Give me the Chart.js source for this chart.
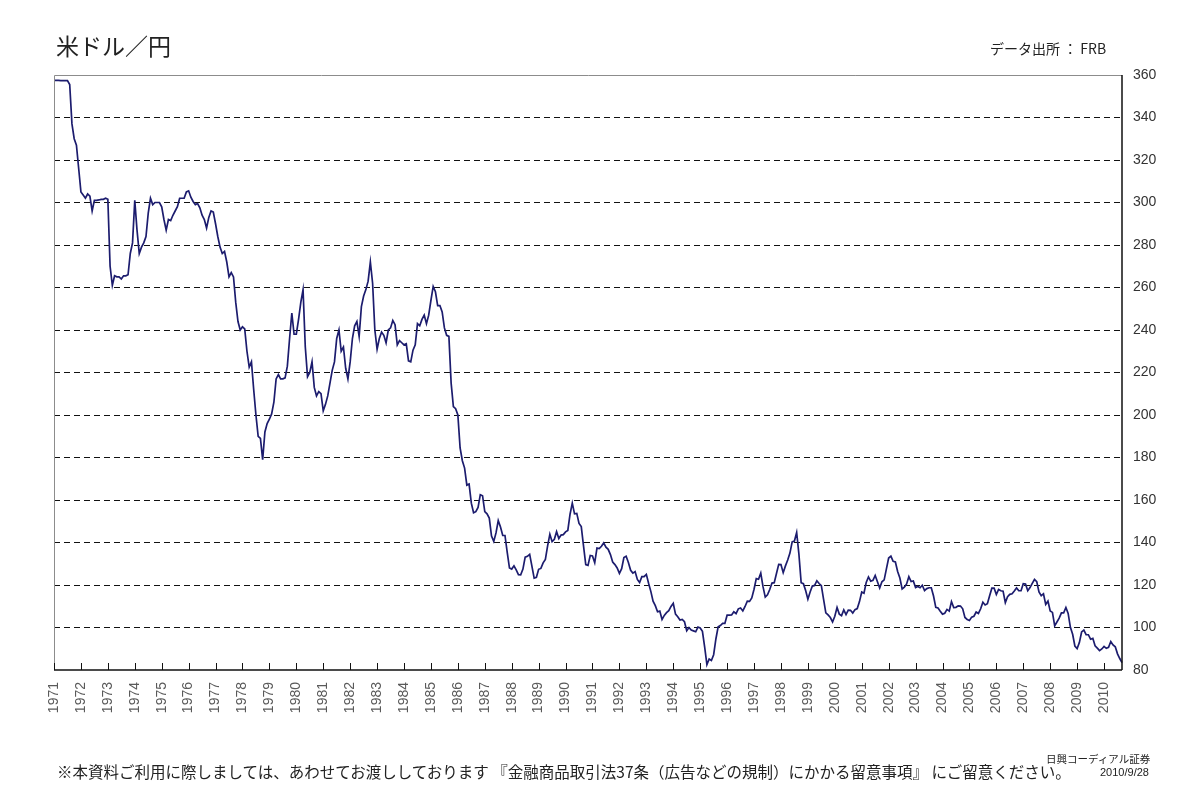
<!DOCTYPE html>
<html lang="ja">
<head>
<meta charset="utf-8">
<title>米ドル／円</title>
<script src="https://cdn.jsdelivr.net/npm/chart.js@4.4.1/dist/chart.umd.min.js"></script>
<style>
  html, body { margin: 0; padding: 0; background: #fff; }
  #wrap { position: relative; width: 1200px; height: 790px; overflow: hidden; }
  #c { position: absolute; left: 0; top: 0; }
  .txt { position: absolute; white-space: nowrap; color: #222; font-family: 'Noto Sans CJK JP', 'Noto Sans', sans-serif; }
  #title { left: 56px; top: 28px; font-size: 23px; }
  #source { left: 990px; top: 38px; font-size: 14px; }
  #note { left: 57px; top: 760px; font-size: 15.5px; }
  #firm { left: 1046px; top: 751px; font-size: 10.5px; }
  #date { left: 1100px; top: 766px; font-size: 11px; font-family: 'Liberation Sans', Arial, sans-serif; }
</style>
</head>
<body>
<div id="wrap">
  <canvas id="c" width="1200" height="790"></canvas>
  <div class="txt" id="title">米ドル／円</div>
  <div class="txt" id="source">データ出所 ： FRB</div>
  <div class="txt" id="note">※本資料ご利用に際しましては、あわせてお渡ししております 『金融商品取引法37条（広告などの規制）にかかる留意事項』 にご留意ください。</div>
  <div class="txt" id="firm">日興コーディアル証券</div>
  <div class="txt" id="date">2010/9/28</div>
</div>
<script>
// ─── Data: USD/JPY, monthly (1971/1 … 2010/9) ───
const firstYear = 1971;
const lastYear = 2010;
const lastMonth = 9;

const usdJpy = [
  // 1971
  357.5, 357.5, 357.5, 357.4, 357.4, 357.4, 357.4, 355.5, 337.0, 330.0, 327.0, 316.0,
  // 1972
  305.0, 303.5, 302.0, 304.0, 303.0, 296.0, 301.0, 301.0, 301.2, 301.5, 301.5, 302.0,
  // 1973
  301.5, 270.0, 261.0, 265.5, 265.0, 265.0, 264.0, 265.5, 265.5, 266.0, 276.0, 281.0,
  // 1974
  301.0, 287.0, 276.0, 279.0, 281.0, 284.0, 295.0, 302.0, 299.0, 300.0, 300.0, 300.0,
  // 1975
  298.0, 292.0, 287.0, 292.0, 291.5, 294.0, 296.0, 298.0, 302.0, 302.0, 302.0, 305.0,
  // 1976
  305.5, 302.5, 300.5, 299.0, 299.5, 297.5, 294.0, 292.0, 288.0, 293.0, 296.0, 295.5,
  // 1977
  290.0, 284.0, 279.0, 276.0, 277.0, 272.0, 265.0, 267.0, 265.0, 253.0, 244.0, 240.0,
  // 1978
  241.5, 240.5, 230.0, 222.5, 225.0, 212.0, 200.0, 190.0, 189.0, 179.0, 192.0, 196.0,
  // 1979
  198.0, 200.5, 206.0, 217.0, 219.0, 217.0, 217.0, 217.5, 223.0, 236.0, 248.0, 238.0,
  // 1980
  238.0, 245.0, 253.0, 259.0, 232.0, 218.0, 220.0, 225.0, 213.0, 209.0, 211.0, 210.0,
  // 1981
  202.0, 205.0, 209.0, 215.0, 221.0, 225.0, 236.0, 240.0, 230.0, 232.0, 222.0, 217.0,
  // 1982
  225.0, 236.0, 242.0, 244.0, 237.0, 251.0, 256.0, 259.0, 263.0, 272.0, 262.0, 240.0,
  // 1983
  231.0, 236.0, 239.0, 237.5, 234.0, 240.0, 241.0, 244.5, 242.5, 233.0, 235.0, 234.0,
  // 1984
  233.0, 233.5, 225.5, 225.0, 230.5, 233.0, 243.0, 242.0, 245.0, 247.0, 243.0, 247.0,
  // 1985
  254.0, 260.5, 258.0, 251.5, 251.5, 248.5, 241.0, 237.5, 237.0, 215.0, 204.0, 203.0,
  // 1986
  200.0, 184.5, 178.5, 175.0, 167.0, 167.5, 158.5, 154.0, 154.5, 156.5, 162.5, 162.0,
  // 1987
  154.5, 153.5, 151.5, 143.0, 140.5, 144.5, 150.3, 147.3, 143.3, 143.3, 135.4, 128.0,
  // 1988
  127.5, 129.0, 127.1, 124.9, 124.8, 127.5, 133.1, 133.5, 134.4, 128.9, 123.2, 123.6,
  // 1989
  127.4, 127.8, 130.4, 132.0, 138.4, 143.9, 140.4, 141.5, 145.1, 141.9, 143.5, 143.7,
  // 1990
  145.0, 145.7, 153.3, 158.5, 153.5, 153.7, 149.0, 147.5, 138.4, 129.6, 129.2, 133.9,
  // 1991
  133.7, 130.5, 137.4, 137.1, 138.2, 139.8, 137.8, 136.8, 134.3, 130.8, 129.6, 128.0,
  // 1992
  125.5, 127.7, 132.9, 133.5, 130.6, 126.9, 125.6, 126.3, 122.6, 121.2, 123.9, 123.9,
  // 1993
  125.0, 120.8, 117.0, 112.4, 110.3, 107.4, 107.7, 103.8, 105.7, 107.0, 107.9, 109.9,
  // 1994
  111.4, 106.3, 105.1, 103.5, 103.8, 102.7, 98.5, 100.0, 98.8, 98.4, 98.0, 100.2,
  // 1995
  99.8, 98.2, 90.8, 82.5, 85.2, 84.5, 87.2, 94.6, 100.3, 100.9, 101.9, 101.9,
  // 1996
  105.8, 105.8, 105.9, 107.4, 106.5, 108.8, 109.2, 107.8, 109.9, 112.4, 112.3, 113.9,
  // 1997
  118.0, 123.0, 122.7, 125.6, 119.2, 114.3, 115.4, 117.9, 120.9, 121.1, 125.4, 129.7,
  // 1998
  129.6, 125.8, 129.0, 131.8, 135.0, 140.3, 140.7, 144.7, 134.5, 121.1, 120.6, 117.4,
  // 1999
  113.3, 116.7, 119.5, 119.8, 122.0, 120.7, 119.7, 113.2, 106.9, 105.9, 104.7, 102.6,
  // 2000
  105.3, 109.4, 106.3, 105.6, 108.3, 106.1, 108.2, 108.1, 106.8, 108.4, 108.9, 112.2,
  // 2001
  116.7, 116.1, 121.2, 123.8, 121.8, 122.2, 124.5, 121.5, 118.6, 121.5, 122.4, 127.6,
  // 2002
  132.7, 133.6, 131.1, 130.8, 126.4, 123.3, 118.1, 119.0, 120.5, 123.9, 121.6, 121.9,
  // 2003
  118.8, 119.3, 118.7, 119.9, 117.4, 118.3, 118.7, 118.7, 114.8, 109.5, 109.2, 107.7,
  // 2004
  106.3, 106.7, 108.5, 107.7, 112.2, 109.4, 109.5, 110.2, 110.1, 108.8, 104.7, 103.8,
  // 2005
  103.3, 104.9, 105.3, 107.3, 106.6, 108.8, 111.9, 110.6, 111.2, 114.9, 118.5, 118.5,
  // 2006
  115.5, 117.9, 117.3, 117.1, 111.7, 114.5, 115.6, 115.9, 117.2, 118.6, 117.3, 117.3,
  // 2007
  120.6, 120.5, 117.3, 118.8, 120.8, 122.6, 121.6, 116.7, 115.0, 115.9, 110.9, 112.4,
  // 2008
  107.8, 107.1, 100.8, 102.6, 104.4, 106.9, 106.9, 109.4, 106.6, 100.1, 96.8, 91.3,
  // 2009
  90.1, 92.9, 97.9, 98.8, 96.6, 96.6, 94.5, 94.9, 91.4, 90.3, 89.1, 89.9,
  // 2010
  91.1, 90.2, 90.7, 93.4, 91.8, 90.9, 87.6, 85.4, 83.5
];

// monthly category labels, e.g. "1971/1"
const months = [];
for (let y = firstYear; y <= lastYear; y++) {
  for (let m = 1; m <= 12; m++) {
    if (y === lastYear && m > lastMonth) break;
    months.push(y + '/' + m);
  }
}

const yMin = 80, yMax = 360, yStep = 20;
const LINE = '#1c1c6e';

// ─── Frame + inward year ticks ───────────────────────────────
const framePlugin = {
  id: 'frame',
  afterDraw(chart) {
    const { ctx, chartArea: a, scales: { x } } = chart;
    ctx.save();
    ctx.lineWidth = 1;
    ctx.strokeStyle = '#8c8c8c';
    ctx.beginPath();
    ctx.moveTo(a.left + 0.5, a.bottom);
    ctx.lineTo(a.left + 0.5, a.top + 0.5);
    ctx.lineTo(a.right, a.top + 0.5);
    ctx.stroke();

    ctx.strokeStyle = '#111';
    ctx.lineWidth = 1.5;
    ctx.beginPath();
    ctx.moveTo(a.left, a.bottom);
    ctx.lineTo(a.right, a.bottom);
    ctx.moveTo(a.right, a.bottom);
    ctx.lineTo(a.right, a.top);
    ctx.stroke();

    ctx.lineWidth = 1;
    ctx.beginPath();
    months.forEach((lab, i) => {
      if (!lab.endsWith('/1')) return;
      const px = Math.round(x.getPixelForValue(i)) + 0.5;
      ctx.moveTo(px, a.bottom);
      ctx.lineTo(px, a.bottom - 7);
    });
    ctx.stroke();
    ctx.restore();
  }
};

new Chart(document.getElementById('c'), {
  type: 'line',
  data: {
    labels: months,
    datasets: [{
      data: usdJpy,
      borderColor: LINE,
      borderWidth: 1.7,
      pointRadius: 0,
      tension: 0,
      fill: false
    }]
  },
  options: {
    responsive: false,
    animation: false,
    events: [],
    layout: { padding: { left: 54, top: 75, right: 0, bottom: 0 } },
    plugins: { legend: { display: false }, tooltip: { enabled: false } },
    scales: {
      x: {
        type: 'category',
        offset: false,
        grid: { display: false, drawTicks: false },
        border: { display: false },
        afterFit: s => { s.height = 120; },
        ticks: {
          autoSkip: false,
          minRotation: 90,
          maxRotation: 90,
          padding: 12,
          color: '#5a5a5a',
          font: { family: "'Liberation Sans', Arial, sans-serif", size: 14 },
          callback(val) {
            const lab = this.getLabelForValue(val);
            return lab.endsWith('/1') ? lab.slice(0, 4) : null;
          }
        }
      },
      y: {
        position: 'right',
        min: yMin,
        max: yMax,
        afterFit: s => { s.width = 78; },
        grid: {
          drawTicks: false,
          lineWidth: 1,
          color: ctx => (ctx.tick && (ctx.tick.value === yMin || ctx.tick.value === yMax)) ? 'rgba(0,0,0,0)' : '#111'
        },
        border: { display: false, dash: [6, 4] },
        ticks: {
          stepSize: yStep,
          padding: 11,
          color: '#333',
          font: { family: "'Liberation Sans', Arial, sans-serif", size: 14 }
        }
      }
    }
  },
  plugins: [framePlugin]
});
</script>
</body>
</html>
